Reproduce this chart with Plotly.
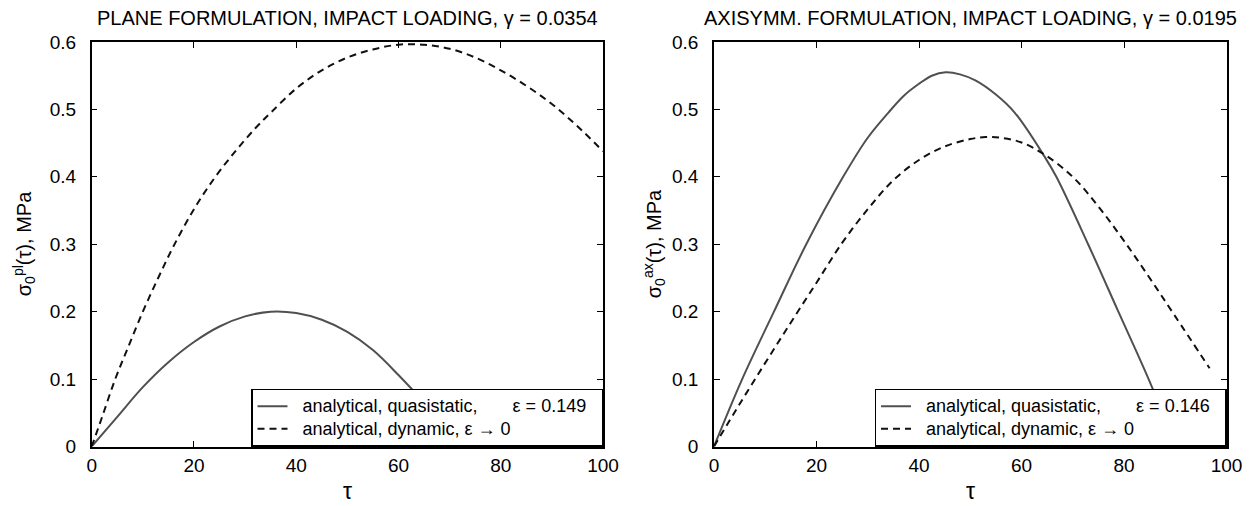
import plotly.graph_objects as go

# ---- data ----
pl_qs_tau = [0, 5, 10, 15, 20, 25, 30, 35, 40, 45, 50, 55, 60, 65, 70, 72]
pl_qs_val = [0, 0.044, 0.088, 0.125, 0.155, 0.178, 0.193, 0.2, 0.198, 0.188, 0.17, 0.143, 0.106, 0.065, 0.02, 0.0]

pl_dyn_tau = [0, 2, 4.6, 7, 10, 13, 16, 20, 24, 28, 32, 35, 40, 45, 50, 55, 60, 65, 70, 75, 80, 85, 90, 95, 100]
pl_dyn_val = [0, 0.043, 0.1, 0.145, 0.2, 0.25, 0.297, 0.352, 0.398, 0.437, 0.472, 0.495, 0.531, 0.558, 0.577, 0.589,
              0.596, 0.596, 0.59, 0.577, 0.558, 0.535, 0.508, 0.475, 0.438]

ax_qs_tau = [0, 5.5, 11.7, 18, 25.2, 30, 34, 37, 40, 42.5, 45.2, 48, 51, 55, 58.7, 64.5, 66.8, 73, 78.9, 84.8, 90.2]
ax_qs_val = [0, 0.1, 0.2, 0.3, 0.4, 0.458, 0.495, 0.52, 0.538, 0.55, 0.555, 0.552, 0.543, 0.522, 0.495, 0.43,
             0.4, 0.3, 0.2, 0.1, 0.0]

ax_dyn_tau = [0, 5, 10, 15, 20, 25, 30, 35, 40, 45, 50, 53, 56, 60, 64.5, 70, 75, 80, 85, 90, 96.7]
ax_dyn_val = [0, 0.063, 0.124, 0.184, 0.243, 0.302, 0.352, 0.395, 0.425, 0.445, 0.456, 0.459, 0.458, 0.451,
              0.433, 0.4, 0.356, 0.305, 0.25, 0.193, 0.116]

titles = ["PLANE FORMULATION, IMPACT LOADING, γ = 0.0354",
          "AXISYMM. FORMULATION, IMPACT LOADING, γ = 0.0195"]
ytitles = ["σ<sub>0</sub><sup>pl</sup>(τ), MPa", "σ<sub>0</sub><sup>ax</sup>(τ), MPa"]
NB = "&nbsp;"
qs_names = [NB * 2 + "analytical, quasistatic," + NB * 7 + "ε = 0.149" + NB * 2,
            NB * 2 + "analytical, quasistatic," + NB * 7 + "ε = 0.146" + NB * 2]
dyn_name = NB * 2 + "analytical, dynamic, ε → 0"
xticks = [0, 20, 40, 60, 80, 100]
yticks = [0, 0.1, 0.2, 0.3, 0.4, 0.5, 0.6]
ytick_text = ["0", "0.1", "0.2", "0.3", "0.4", "0.5", "0.6"]

FONT = "Liberation Sans, Arial, Helvetica, sans-serif"
# the page body has an 8px margin, so the figure is laid out in page pixels minus 8
OFF = 8
W, H = 1255 - OFF, 506 - OFF


def px(xp):
    return (xp - OFF) / W


def py(yp):
    return 1 - (yp - OFF) / H


xdom = [[px(91.7), px(603)], [px(714), px(1226.5)]]
ydom = [py(446.5), py(42)]

fig = go.Figure()
solid_col = "#505050"
dash_col = "#111111"
DASH = "7px,5px"


def leg(s):
    return "<span style='font-size:18px'>" + s + "</span>"


fig.add_trace(go.Scatter(x=pl_qs_tau, y=pl_qs_val, mode="lines", line=dict(color=solid_col, width=2, shape="spline"),
                         name=leg(qs_names[0]), xaxis="x", yaxis="y", legend="legend"))
fig.add_trace(go.Scatter(x=pl_dyn_tau, y=pl_dyn_val, mode="lines",
                         line=dict(color=dash_col, width=2, dash=DASH, shape="spline"),
                         name=leg(dyn_name), xaxis="x", yaxis="y", legend="legend"))
fig.add_trace(go.Scatter(x=ax_qs_tau, y=ax_qs_val, mode="lines", line=dict(color=solid_col, width=2, shape="spline"),
                         name=leg(qs_names[1]), xaxis="x2", yaxis="y2", legend="legend2"))
fig.add_trace(go.Scatter(x=ax_dyn_tau, y=ax_dyn_val, mode="lines",
                         line=dict(color=dash_col, width=2, dash=DASH, shape="spline"),
                         name=leg(dyn_name), xaxis="x2", yaxis="y2", legend="legend2"))

axis_common = dict(showgrid=False, zeroline=False, showline=True, linecolor="black", linewidth=1.5,
                   mirror="ticks", ticks="inside", ticklen=6, tickcolor="black", tickwidth=1,
                   tickfont=dict(family=FONT, size=19, color="black"))

legend_common = dict(xanchor="right", yanchor="bottom", bgcolor="white", bordercolor="black", borderwidth=1.5,
                     font=dict(family=FONT, size=15, color="black"), tracegroupgap=0, itemwidth=30)

fig.update_layout(
    width=W, height=H, margin=dict(l=0, r=0, t=0, b=0, autoexpand=False),
    paper_bgcolor="white", plot_bgcolor="white",
    font=dict(family=FONT, color="black"),
    xaxis=dict(domain=xdom[0], range=[0, 100], tickvals=xticks, anchor="y", ticklabelstandoff=1, **axis_common),
    yaxis=dict(domain=ydom, range=[0, 0.6], tickvals=yticks, ticktext=ytick_text, anchor="x",
               ticklabelstandoff=10, **axis_common),
    xaxis2=dict(domain=xdom[1], range=[0, 100], tickvals=xticks, anchor="y2", ticklabelstandoff=1, **axis_common),
    yaxis2=dict(domain=ydom, range=[0, 0.6], tickvals=yticks, ticktext=ytick_text, anchor="x2",
                ticklabelstandoff=10, **axis_common),
    legend=dict(x=xdom[0][1], y=ydom[0], **legend_common),
    legend2=dict(x=xdom[1][1], y=ydom[0], **legend_common),
    showlegend=True,
)

anns = []
for i in range(2):
    cx = (xdom[i][0] + xdom[i][1]) / 2
    anns.append(dict(text=titles[i], x=cx, y=py(18), xref="paper", yref="paper", showarrow=False,
                     xanchor="center", yanchor="middle", font=dict(family=FONT, size=20)))
    anns.append(dict(text="τ", x=cx, y=py(491), xref="paper", yref="paper", showarrow=False,
                     xanchor="center", yanchor="middle", font=dict(family=FONT, size=23)))
    ax_x = [px(24), px(654)][i]
    anns.append(dict(text=ytitles[i], x=ax_x, y=(ydom[0] + ydom[1]) / 2, xref="paper", yref="paper",
                     showarrow=False, textangle=-90, xanchor="center", yanchor="middle",
                     font=dict(family=FONT, size=20)))
fig.update_layout(annotations=anns)

fig.write_html("out.html")
